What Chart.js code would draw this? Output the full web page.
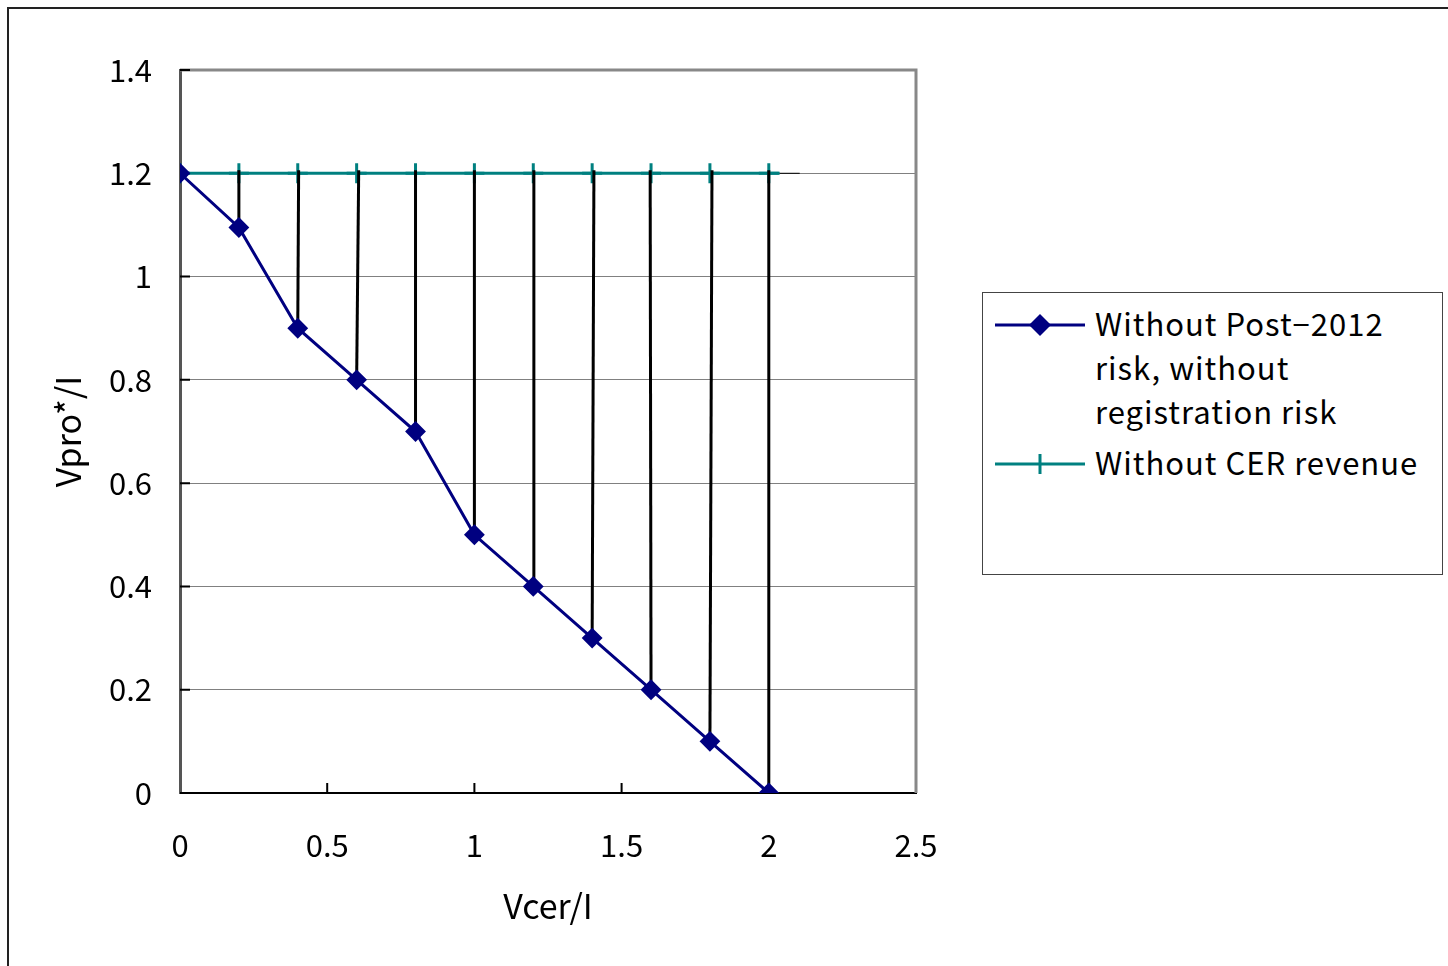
<!DOCTYPE html>
<html lang="en">
<head>
<meta charset="UTF-8">
<title>Vpro*/I vs Vcer/I</title>
<script src="https://cdn.jsdelivr.net/npm/chart.js"></script>
<style>
	html, body { margin: 0; padding: 0; background: #fff; overflow: hidden; }
	#wrap { position: relative; width: 1448px; height: 966px; }
	#frame { position: absolute; left: 7px; top: 7px; width: 1500px; height: 1000px; border: 2px solid #222; box-sizing: border-box; }
	#chart { position: absolute; left: 0; top: 0; }
	#legend { position: absolute; left: 982px; top: 292px; width: 461px; height: 283px; border: 1.5px solid #444; box-sizing: border-box; background: #fff;
		font-family: "Noto Sans CJK JP", "Noto Sans", sans-serif; font-size: 31px; letter-spacing: 1px; color: #000; }
	#legend .item { position: absolute; left: 0; }
	#legend svg { position: absolute; left: 12px; }
	#legend .txt { position: absolute; left: 112px; line-height: 44px; white-space: nowrap; }
</style>
</head>
<body>
<div id="wrap">
	<div id="frame"></div>
	<canvas id="chart" width="1448" height="966"></canvas>
	<div id="legend">
		<div class="item" style="top:8px">
			<svg width="92" height="44" style="top:2px"><line x1="0" y1="22" x2="90" y2="22" stroke="#000080" stroke-width="3"/><polygon points="45,11 56,22 45,33 34,22" fill="#000080"/></svg>
			<div class="txt" style="top:0">Without Post−2012<br>risk, without<br>registration risk</div>
		</div>
		<div class="item" style="top:147px">
			<svg width="92" height="44" style="top:2px"><line x1="0" y1="22" x2="90" y2="22" stroke="#008080" stroke-width="3"/><line x1="45" y1="12" x2="45" y2="32" stroke="#008080" stroke-width="3"/></svg>
			<div class="txt" style="top:0">Without CER revenue</div>
		</div>
	</div>
</div>
<script>
// data
const xVals = [0, 0.2, 0.4, 0.6, 0.8, 1.0, 1.2, 1.4, 1.6, 1.8, 2.0];
const postRiskY = [1.2, 1.095, 0.9, 0.8, 0.7, 0.5, 0.4, 0.3, 0.2, 0.1, 0];
const cerX = [0, 0.2, 0.4, 0.6, 0.8, 1.0, 1.2, 1.4, 1.6, 1.8, 2.0, 2.037];
const cerY = [1.2, 1.2, 1.2, 1.2, 1.2, 1.2, 1.2, 1.2, 1.2, 1.2, 1.2, 1.2];
// hand drawn vertical lines: top end x (slightly off in the original)
const dropTopX = [0.2, 0.403, 0.607, 0.8, 1.0, 1.202, 1.406, 1.597, 1.807, 2.0];
const dropTopY = 1.206;
const xTicks = [0, 0.5, 1, 1.5, 2, 2.5];
const yTicks = [0, 0.2, 0.4, 0.6, 0.8, 1, 1.2, 1.4];

const fontFam = '"Noto Sans CJK JP", "Noto Sans", sans-serif';

const datasets = [];
datasets.push({
	label: 'Without Post-2012 risk, without registration risk',
	data: xVals.map((x, i) => ({x: x, y: postRiskY[i]})),
	showLine: true,
	borderColor: '#000080',
	backgroundColor: '#000080',
	borderWidth: 3,
	pointStyle: 'rectRot',
	pointRadius: 9,
	pointBorderWidth: 2,
	pointBackgroundColor: '#000080',
	pointBorderColor: '#000080'
});
// vertical black lines from each point up to 1.2
for(let i = 1; i < xVals.length; i++) {
	datasets.push({
		label: 'drop' + i,
		data: [{x: xVals[i], y: postRiskY[i]}, {x: dropTopX[i - 1], y: dropTopY}],
		showLine: true,
		borderColor: '#000',
		borderWidth: 3,
		pointRadius: 0
	});
}
// small thin line continuing past the teal line
datasets.push({
	label: 'tail',
	data: [{x: 2.037, y: 1.2}, {x: 2.105, y: 1.2}],
	showLine: true,
	borderColor: '#000',
	borderWidth: 1,
	pointRadius: 0
});
datasets.push({
	label: 'Without CER revenue',
	data: cerX.map((x, i) => ({x: x, y: cerY[i]})),
	showLine: true,
	borderColor: '#008080',
	borderWidth: 3,
	pointStyle: 'cross',
	pointRadius: cerX.map(x => x > 2.01 ? 0 : 10),
	pointBorderWidth: 3,
	pointBorderColor: '#008080'
});

// frame, inward tick marks
const framePlugin = {
	id: 'framePlugin',
	beforeDatasetsDraw(chart) {
		const {ctx, chartArea: a, scales} = chart;
		ctx.save();
		ctx.strokeStyle = '#888';
		ctx.lineWidth = 3;
		ctx.beginPath();
		ctx.moveTo(a.left, a.top);
		ctx.lineTo(a.right, a.top);
		ctx.lineTo(a.right, a.bottom);
		ctx.stroke();
		ctx.strokeStyle = '#000';
		ctx.lineWidth = 2;
		ctx.beginPath();
		yTicks.forEach(v => {
			const py = scales.y.getPixelForValue(v);
			ctx.moveTo(a.left, py);
			ctx.lineTo(a.left + 10, py);
		});
		xTicks.slice(1, -1).forEach(v => {
			const px = scales.x.getPixelForValue(v);
			ctx.moveTo(px, a.bottom);
			ctx.lineTo(px, a.bottom - 10);
		});
		ctx.stroke();
		ctx.restore();
	}
};

const fmt = v => String(Math.round(v * 10) / 10);

new Chart(document.getElementById('chart'), {
	type: 'scatter',
	data: { datasets: datasets },
	plugins: [framePlugin],
	options: {
		responsive: false,
		animation: false,
		layout: { padding: { left: 38, top: 70, right: 532, bottom: 20 } },
		plugins: { legend: { display: false }, tooltip: { enabled: false } },
		scales: {
			x: {
				type: 'linear',
				min: 0, max: 2.5,
				afterBuildTicks: s => { s.ticks = xTicks.map(v => ({value: v})); },
				afterFit: s => { s.height = 966 - 20 - 793; },
				grid: { display: false, drawTicks: false, tickLength: 0 },
				border: { display: true, color: '#000', width: 2 },
				ticks: { padding: 34, color: '#000', font: { family: fontFam, size: 31 }, callback: fmt },
				title: { display: true, text: 'Vcer/I', color: '#000', font: { family: fontFam, size: 34 }, padding: { top: 0, bottom: 20 } }
			},
			y: {
				type: 'linear',
				min: 0, max: 1.4,
				afterBuildTicks: s => { s.ticks = yTicks.map(v => ({value: v})); },
				afterFit: s => { s.width = 180 - 38; },
				grid: { color: '#808080', lineWidth: 1, drawTicks: false, tickLength: 0 },
				border: { display: true, color: '#555', width: 3 },
				ticks: { padding: 28, color: '#000', font: { family: fontFam, size: 31 }, callback: fmt },
				title: { display: true, text: 'Vpro*/I', color: '#000', font: { family: fontFam, size: 34 }, padding: { top: 10, bottom: 0 } }
			}
		}
	}
});
</script>
</body>
</html>
